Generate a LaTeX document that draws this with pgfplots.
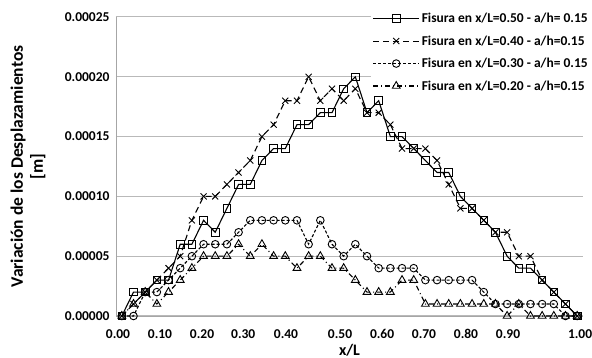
\documentclass[border=0pt]{standalone}
\usepackage{fontspec}
\setmainfont{Carlito}
\usepackage{pgfplots}
\pgfplotsset{compat=1.18}
\begin{document}
\begin{tikzpicture}
\begin{axis}[
  scale only axis, width=467pt, height=299pt,
  xmin=-0.5, xmax=39.5, ymin=0, ymax=0.00025,
  axis lines=left, axis line style={-, draw=gray!70, line width=0.8pt},
  ymajorgrids, grid style={gray!55, line width=1pt},
  ytick={0,0.00005,0.0001,0.00015,0.0002,0.00025},
  scaled y ticks=false,
  yticklabel style={/pgf/number format/fixed,/pgf/number format/precision=5,/pgf/number format/fixed zerofill, xshift=-3pt},
  xticklabel style={yshift=-10pt},
  xtick={-0.33,3.27,6.87,10.40,14.06,18.69,22.29,25.88,29.48,33.08,39.25},
  xticklabels={0.00,0.10,0.20,0.30,0.40,0.50,0.60,0.70,0.80,0.90,1.00},
  major tick length=0pt,
  /pgf/number format/assume math mode=true,
  ticklabel style={font=\fontsize{13.5}{15}\selectfont\bfseries},
  clip=false,
  legend style={at={(1.019,1.027)}, anchor=north east, draw=none, fill=white,
    font=\fontsize{13.5}{15}\selectfont\bfseries, row sep=7.5pt, inner sep=2pt,
    cells={anchor=west}},
  legend image code/.code={\draw[mark repeat=2,mark phase=2,#1] plot coordinates {(0pt,0pt) (23pt,0pt) (46pt,0pt)};},
]
\addplot[black, line width=1.1pt, mark=square, mark size=3.8pt, mark options={solid, fill=white, line width=0.9pt}] coordinates {
(0,0) (1,0.00002) (2,0.00002) (3,0.00003) (4,0.00003) (5,0.00006) (6,0.00006) (7,0.00008) (8,0.00007) (9,0.00009)
(10,0.00011) (11,0.00011) (12,0.00013) (13,0.00014) (14,0.00014) (15,0.00016) (16,0.00016) (17,0.00017) (18,0.00017) (19,0.00019)
(20,0.00020) (21,0.00017) (22,0.00018) (23,0.00015) (24,0.00015) (25,0.00014) (26,0.00013) (27,0.00012) (28,0.00012) (29,0.00010)
(30,0.00009) (31,0.00008) (32,0.00007) (33,0.00005) (34,0.00004) (35,0.00004) (36,0.00003) (37,0.00002) (38,0.00001) (39,0)
};
\addlegendentry{Fisura en x/L=0.50 - a/h= 0.15}
\addplot[black, line width=1.1pt, dash pattern=on 6pt off 4pt, mark=x, mark size=4.3pt, mark options={solid, line width=0.9pt}] coordinates {
(0,0) (1,0.00001) (2,0.00002) (3,0.00003) (4,0.00004) (5,0.00005) (6,0.00008) (7,0.00010) (8,0.00010) (9,0.00011)
(10,0.00012) (11,0.00013) (12,0.00015) (13,0.00016) (14,0.00018) (15,0.00018) (16,0.00020) (17,0.00018) (18,0.00019) (19,0.00018)
(20,0.00019) (21,0.00017) (22,0.00017) (23,0.00016) (24,0.00014) (25,0.00014) (26,0.00014) (27,0.00013) (28,0.00011) (29,0.00009)
(30,0.00009) (31,0.00008) (32,0.00007) (33,0.00007) (34,0.00005) (35,0.00005) (36,0.00003) (37,0.00002) (38,0.00001) (39,0)
};
\addlegendentry{Fisura en x/L=0.40 - a/h=0.15}
\addplot[black, line width=1.1pt, dash pattern=on 3pt off 2pt, mark=o, mark size=3.8pt, mark options={solid, fill=white, line width=0.9pt}] coordinates {
(0,0) (1,0) (2,0.00002) (3,0.00002) (4,0.00003) (5,0.00004) (6,0.00005) (7,0.00006) (8,0.00006) (9,0.00006)
(10,0.00007) (11,0.00008) (12,0.00008) (13,0.00008) (14,0.00008) (15,0.00008) (16,0.00006) (17,0.00008) (18,0.00006) (19,0.00005)
(20,0.00006) (21,0.00005) (22,0.00004) (23,0.00004) (24,0.00004) (25,0.00004) (26,0.00003) (27,0.00003) (28,0.00003) (29,0.00003)
(30,0.00003) (31,0.00002) (32,0.00001) (33,0.00001) (34,0.00001) (35,0.00001) (36,0.00001) (37,0.00001) (38,0) (39,0)
};
\addlegendentry{Fisura en x/L=0.30 - a/h= 0.15}
\addplot[black, line width=1.1pt, dash pattern=on 5pt off 3pt on 1pt off 3pt, mark=triangle, mark size=4.5pt, mark options={solid, fill=white, line width=0.9pt}] coordinates {
(0,0) (1,0.00001) (2,0.00002) (3,0.00001) (4,0.00002) (5,0.00003) (6,0.00004) (7,0.00005) (8,0.00005) (9,0.00005)
(10,0.00006) (11,0.00005) (12,0.00006) (13,0.00005) (14,0.00005) (15,0.00004) (16,0.00005) (17,0.00005) (18,0.00004) (19,0.00004)
(20,0.00003) (21,0.00002) (22,0.00002) (23,0.00002) (24,0.00003) (25,0.00003) (26,0.00001) (27,0.00001) (28,0.00001) (29,0.00001)
(30,0.00001) (31,0.00001) (32,0.00001) (33,0) (34,0.00001) (35,0) (36,0) (37,0) (38,0) (39,0)
};
\addlegendentry{Fisura en x/L=0.20 - a/h=0.15}
\end{axis}
\node[rotate=90, align=center, font=\fontsize{17.5}{20}\selectfont\bfseries] at ([xshift=-88pt]current axis.west) {Variación de los Desplazamientos\\ {[m]}};
\node[font=\fontsize{16}{17}\selectfont\bfseries] at ([yshift=-34pt]current axis.south) {x/L};
\pgfresetboundingbox
\path[use as bounding box] ([xshift=-116pt,yshift=-42pt]current axis.south west) rectangle ([xshift=9pt,yshift=17pt]current axis.north east);
\end{tikzpicture}
\end{document}
